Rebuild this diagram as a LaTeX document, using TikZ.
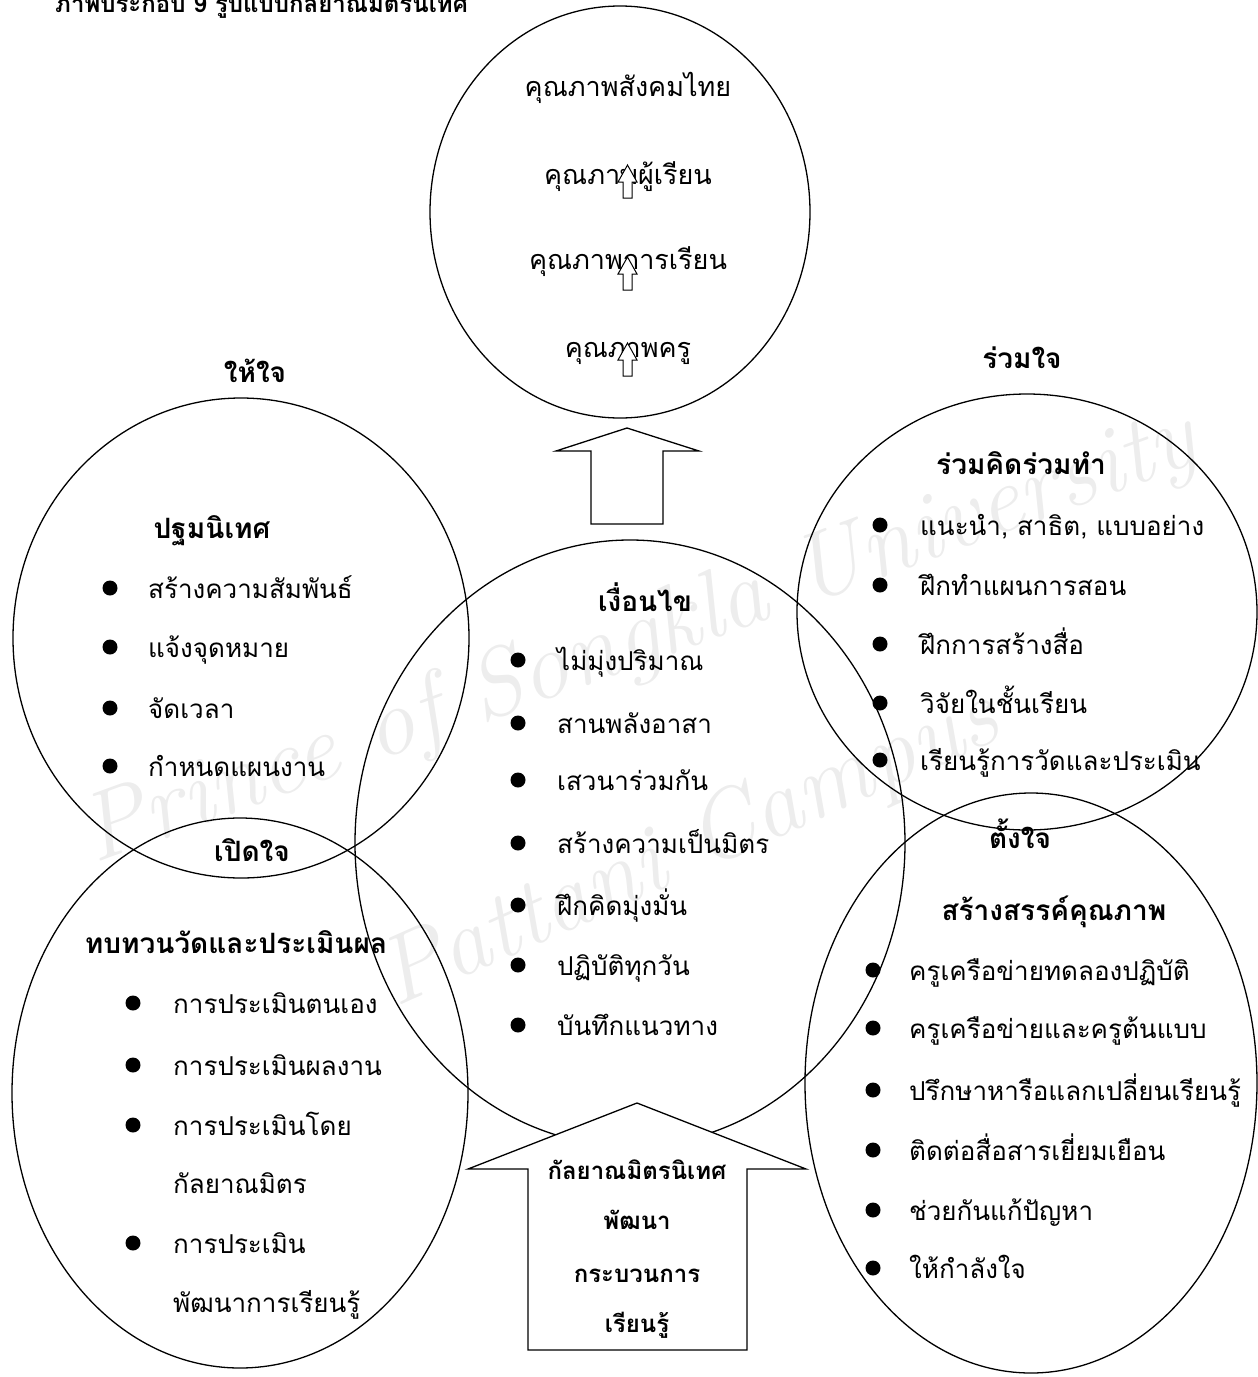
\documentclass[tikz,border=0pt]{standalone}
\usepackage{fontspec}
\usetikzlibrary{shapes.geometric}
\newfontfamily\thai[Script=Thai]{Loma}
\begin{document}
\begin{tikzpicture}[x=1pt,y=-1pt,
  ring/.style={draw,ellipse,line width=1.3pt,inner sep=0pt},
  body/.style={font=\thai\fontsize{26}{32}\selectfont,anchor=base west,inner sep=0pt},
  head/.style={font=\thai\bfseries\fontsize{28}{34}\selectfont,anchor=base,inner sep=0pt},
  arrtxt/.style={font=\thai\bfseries\fontsize{24}{30}\selectfont,anchor=base,inner sep=0pt},
  qual/.style={font=\thai\fontsize{27}{33}\selectfont,anchor=base,inner sep=0pt},
  dot/.style={circle,fill=black,inner sep=0pt,minimum size=15pt},
  bigarrow/.style={draw,fill=white,line width=1.3pt,line join=miter},
  smallarrow/.style={draw,fill=white,line width=1pt},
  wmark/.style={font=\itshape\fontsize{96}{110}\selectfont,text=gray!14,inner sep=0pt}
]
\useasboundingbox (0,0) rectangle (1258,1377);
\clip (0,0) rectangle (1258,1377);

% faint background lettering
\node[wmark,rotate=20] (wm1) at (640,640) {Prince of Songkla University};
\node[wmark,rotate=24] (wm2) at (690,850) {Pattani Campus};

% heading, partly above the page edge
\node[font=\thai\bfseries\fontsize{24}{30}\selectfont,anchor=base west,inner sep=0pt] (title) at (55,12) {ภาพประกอบ 9 รูปแบบกัลยาณมิตรนิเทศ};

% the six rings
\node[ring,minimum width=380pt,minimum height=412pt] (top) at (620,212) {};
\node[ring,minimum width=456pt,minimum height=480pt] (give) at (241,638) {};
\node[ring,minimum width=456pt,minimum height=550pt] (open) at (240,1093) {};
\node[ring,minimum width=550pt,minimum height=606pt] (cond) at (630,843) {};
\node[ring,minimum width=460pt,minimum height=436pt] (join) at (1027,612) {};
\node[ring,minimum width=452pt,minimum height=580pt] (intent) at (1031,1083) {};

% wide arrow between the centre ring and the top ring
\draw[bigarrow] (591,524) coordinate (ua1) -- (591,451) -- (556,451) -- (627,428) coordinate (uatip)
  -- (699,451) -- (663,451) -- (663,524) -- cycle;

% wide arrow rising from the bottom edge
\draw[bigarrow] (528,1350) coordinate (ba1) -- (528,1169) -- (468,1169) -- (637,1103) coordinate (batip)
  -- (806,1169) -- (747,1169) -- (747,1350) -- cycle;

% top ring: levels of quality
\node[qual] (q1) at (628,96) {คุณภาพสังคมไทย};
\node[qual] (q2) at (628,184) {คุณภาพผู้เรียน};
\node[qual] (q3) at (628,269) {คุณภาพการเรียน};
\node[qual] (q4) at (628,357) {คุณภาพครู};
\foreach \t/\n in {165/a,257/b,343/c}{
  \draw[smallarrow] (623,\t+33) -- (623,\t+17) -- (618,\t+17) -- (627.5,\t) -- (637,\t+17) -- (632,\t+17) -- (632,\t+33) -- cycle;
}

% ring headings
\node[head] (hGive) at (255,382) {ให้ใจ};
\node[head] (hJoin) at (1022,368) {ร่วมใจ};
\node[head] (hOrient) at (212,538) {ปฐมนิเทศ};
\node[head] (hOpen) at (252,861) {เปิดใจ};
\node[head] (hReview) at (236,953) {ทบทวนวัดและประเมินผล};
\node[head] (hCond) at (645,611) {เงื่อนไข};
\node[head] (hCoop) at (1021,474) {ร่วมคิดร่วมทำ};
\node[head] (hIntent) at (1020,848) {ตั้งใจ};
\node[head] (hCreate) at (1054,920) {สร้างสรรค์คุณภาพ};

% orientation list
\foreach \y/\s [count=\i] in {588/สร้างความสัมพันธ์,647/แจ้งจุดหมาย,708/จัดเวลา,766/กำหนดแผนงาน}{
  \node[dot] (gd\i) at (110,\y) {};
  \node[body] (gt\i) at (148,\y+10) {\s};
}

% condition list
\foreach \y/\s [count=\i] in {660/ไม่มุ่งปริมาณ,723/สานพลังอาสา,780/เสวนาร่วมกัน,843/สร้างความเป็นมิตร,905/ฝึกคิดมุ่งมั่น,965/ปฏิบัติทุกวัน,1025/บันทึกแนวทาง}{
  \node[dot] (cd\i) at (518,\y) {};
  \node[body] (ct\i) at (557,\y+10) {\s};
}

% joint work list
\foreach \y/\s [count=\i] in {525/{แนะนำ, สาธิต, แบบอย่าง},585/ฝึกทำแผนการสอน,644/ฝึกการสร้างสื่อ,703/วิจัยในชั้นเรียน,760/เรียนรู้การวัดและประเมิน}{
  \node[dot] (jd\i) at (880,\y) {};
  \node[body] (jt\i) at (920,\y+10) {\s};
}

% review list
\foreach \y/\s [count=\i] in {1003/การประเมินตนเอง,1065/การประเมินผลงาน,1125/การประเมินโดย,1243/การประเมิน}{
  \node[dot] (od\i) at (133,\y) {};
  \node[body] (ot\i) at (173,\y+10) {\s};
}
\node[body] (ot5) at (173,1193) {กัลยาณมิตร};
\node[body] (ot6) at (173,1312) {พัฒนาการเรียนรู้};

% quality creation list
\foreach \y/\s [count=\i] in {970/ครูเครือข่ายทดลองปฏิบัติ,1028/ครูเครือข่ายและครูต้นแบบ,1090/ปรึกษาหารือแลกเปลี่ยนเรียนรู้,1150/ติดต่อสื่อสารเยี่ยมเยือน,1210/ช่วยกันแก้ปัญหา,1268/ให้กำลังใจ}{
  \node[dot] (id\i) at (873,\y) {};
  \node[body] (it\i) at (909,\y+10) {\s};
}

% text inside the bottom arrow
\node[arrtxt] (a1) at (637,1179) {กัลยาณมิตรนิเทศ};
\node[arrtxt] (a2) at (637,1229) {พัฒนา};
\node[arrtxt] (a3) at (637,1282) {กระบวนการ};
\node[arrtxt] (a4) at (637,1332) {เรียนรู้};
\end{tikzpicture}
\end{document}
